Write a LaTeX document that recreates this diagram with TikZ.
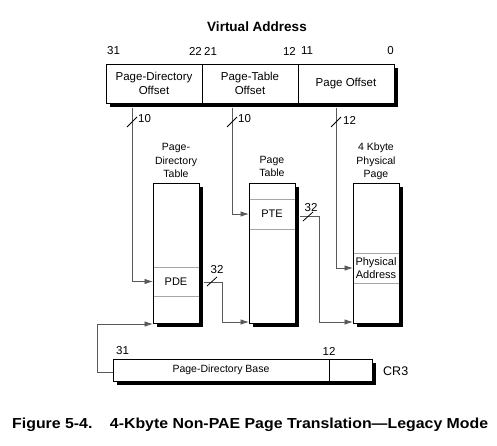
\documentclass[tikz,border=0pt]{standalone}
\usepackage{fontspec}
\setmainfont{Liberation Sans}
\usetikzlibrary{arrows.meta,shadows,calc}
\tikzset{
  shbox/.style={draw=black,line width=0.6pt,fill=white,inner sep=0pt,outer sep=0pt,
    drop shadow={shadow xshift=4pt,shadow yshift=-4pt,fill=black,opacity=1}},
  field/.style={draw=black,line width=0.6pt,inner sep=0pt,outer sep=0pt,align=center,
    font=\fontsize{11.5}{14}\selectfont},
  entry/.style={inner sep=0pt,outer sep=0pt,align=center,font=\fontsize{11}{13.5}\selectfont},
  divider/.style={draw=black!35,line width=0.7pt},
  conn/.style={draw=black!65,line width=0.8pt},
  tip/.style={-{Latex[length=8.5pt,width=5.5pt]}},
  slash/.style={draw=black,line width=0.8pt},
  bitno/.style={inner sep=0pt,font=\fontsize{11.5}{13}\selectfont},
  tlabel/.style={inner sep=0pt,align=center,font=\fontsize{10.5}{13.5}\selectfont},
}
\begin{document}
\begin{tikzpicture}[x=1pt,y=-1pt]
\useasboundingbox (0,0) rectangle (497,446);
% title
\node[inner sep=0pt,font=\fontsize{13.5}{15}\selectfont\bfseries] (title) at (257,27) {Virtual Address};
% virtual address register
\node[shbox,anchor=north west,minimum width=288pt,minimum height=39pt] (va) at (106,64) {};
\node[field,anchor=north west,minimum width=96pt,minimum height=39pt] (pdo) at (106,64) {Page-Directory\\Offset};
\node[field,anchor=north west,minimum width=96pt,minimum height=39pt] (pto) at (202,64) {Page-Table\\Offset};
\node[field,anchor=north west,minimum width=96pt,minimum height=39pt] (po) at (298,64) {Page Offset};
\node[bitno,anchor=west] (b31) at (107,51) {31};
\node[bitno,anchor=east] (b22) at (202,51) {22};
\node[bitno,anchor=west] (b21) at (204,51) {21};
\node[bitno,anchor=east] (b12) at (296,51) {12};
\node[bitno,anchor=west] (b11) at (301,51) {11};
\node[bitno,anchor=east] (b0) at (394,51) {0};
% tables
\node[shbox,anchor=north west,minimum width=46pt,minimum height=140pt] (pdt) at (153,183) {};
\node[shbox,anchor=north west,minimum width=46pt,minimum height=140pt] (pt) at (249,183) {};
\node[shbox,anchor=north west,minimum width=46pt,minimum height=140pt] (pp) at (353,183) {};
\node[tlabel,anchor=south] (pdtl) at (176,178) {Page-\\Directory\\Table};
\node[tlabel,anchor=south] (ptl) at (272,177) {Page\\Table};
\node[tlabel,anchor=south] (ppl) at (376,180) {4 Kbyte\\Physical\\Page};
% entries
\node[entry,anchor=north west,minimum width=46pt,minimum height=29pt] (pde) at (153,267) {PDE};
\node[entry,anchor=north west,minimum width=46pt,minimum height=30pt] (pte) at (249,199) {PTE};
\node[entry,anchor=north west,minimum width=46pt,minimum height=30pt] (pa) at (353,253) {Physical\\Address};
\foreach \e in {pde,pte,pa}{
  \draw[divider] ($(\e.north west)+(0.5,0)$) -- ($(\e.north east)+(-0.5,0)$);
  \draw[divider] ($(\e.south west)+(0.5,0)$) -- ($(\e.south east)+(-0.5,0)$);
}
% CR3
\node[shbox,anchor=north west,minimum width=259pt,minimum height=22pt] (cr3) at (113,359) {};
\node[field,anchor=north west,minimum width=216pt,minimum height=22pt,font=\fontsize{10.5}{12}\selectfont] (pdb) at (113,359) {Page-Directory Base};
\node[field,anchor=north west,minimum width=43pt,minimum height=22pt] (cr3low) at (329,359) {};
\node[bitno,anchor=west] (c31) at (116,351) {31};
\node[bitno] (c12) at (329,351) {12};
\node[inner sep=0pt,anchor=west,font=\fontsize{12.5}{14}\selectfont] (cr3l) at (383,371) {CR3};
% connectors
\coordinate (s1) at (132,108);
\coordinate (s2) at (232,108);
\coordinate (s3) at (336,108);
\draw[conn,tip] (s1) |- (pde.west);
\draw[conn,tip] (s2) |- (pte.west);
\draw[conn,tip] (s3) |- (pa.west);
\coordinate (e1) at (203.5,282);
\coordinate (k1) at (222,282);
\coordinate (ptin) at (249,322);
\draw[conn,tip] (e1) -- (k1) |- (ptin);
\coordinate (e2) at (299.5,216);
\coordinate (k2) at (319,216);
\coordinate (ppin) at (353,322);
\draw[conn,tip] (e2) -- (k2) |- (ppin);
\coordinate (c0) at (113,372);
\coordinate (k3) at (97,372);
\coordinate (pdtin) at (153,324);
\draw[conn,tip] (c0) -- (k3) |- (pdtin);
% slashes and widths
\draw[slash] (127,127) -- (137,117);
\node[bitno,anchor=west] (w1) at (138,119) {10};
\draw[slash] (227,127) -- (237,117);
\node[bitno,anchor=west] (w2) at (238,119) {10};
\draw[slash] (331,127) -- (341,117);
\node[bitno,anchor=west] (w3) at (343,120) {12};
\draw[slash] (207,286) -- (217,277);
\node[bitno] (w4) at (217,270) {32};
\draw[slash] (303,221) -- (313,212);
\node[bitno] (w5) at (311,208) {32};
% caption
\node[inner sep=0pt,anchor=west,font=\fontsize{14.5}{16}\selectfont\bfseries] (cap) at (12,425)
  {\resizebox{476pt}{\height}{Figure 5-4.\hspace{1.1em}4-Kbyte Non-PAE Page Translation—Legacy Mode}};
\end{tikzpicture}
\end{document}
